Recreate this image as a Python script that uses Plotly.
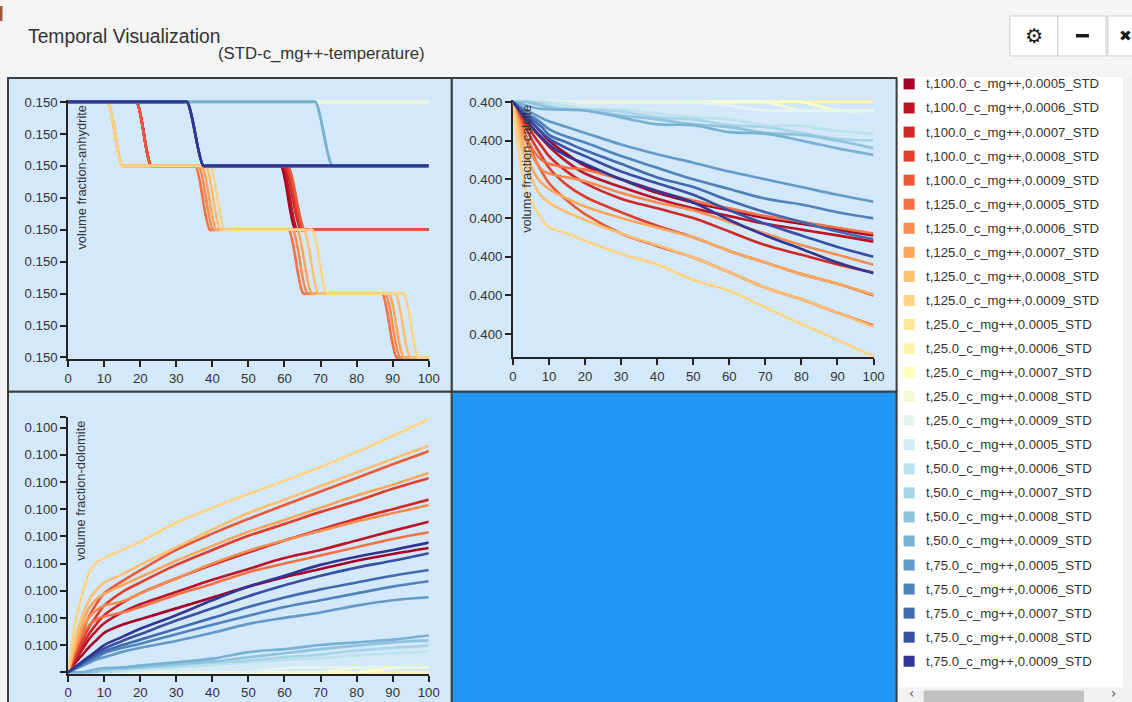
import plotly.graph_objects as go
from plotly.colors import sample_colorscale

W, H = 1132, 702
# the photographed page comes out slightly reduced and shifted; layout positions below are
# given in target-picture pixels and mapped through this small correction
S, A = 0.985, 4.0
FONT = "Liberation Sans, Arial, sans-serif"

# ---------------- data ----------------
temperatures = ["100.0", "125.0", "25.0", "50.0", "75.0"]
concentrations = ["0.0005", "0.0006", "0.0007", "0.0008", "0.0009"]
series_names = [f"t,{t}_c_mg++,{c}_STD" for t in temperatures for c in concentrations]

x_ticks = [0, 10, 20, 30, 40, 50, 60, 70, 80, 90, 100]
time = [0, 2, 4, 6, 8, 10, 15, 20, 30, 40, 50, 60, 70, 80, 90, 100]

# anhydrite: breakpoints per series; value = 0.150 + level * 1e-5
anhydrite_time = [
    [0, 18, 19, 23, 24, 58, 59, 63, 64, 100],
    [0, 18, 19, 23, 24, 58.5, 59.5, 63.5, 64.5, 100],
    [0, 18, 19, 23, 24, 59, 60, 64.5, 65.5, 100],
    [0, 18, 19, 23, 24, 59.5, 60.5, 65, 66, 100],
    [0, 18, 19, 23, 24, 60, 61, 65.5, 66.5, 100],
    [0, 10, 11, 15, 16, 34.3, 35.3, 39.3, 40.3, 60.2, 61.2, 65.2, 66.2, 86.1, 87.1, 91.1, 92.1, 100],
    [0, 10, 11, 15, 16, 35.2, 36.2, 40.2, 41.2, 61.3, 62.3, 66.3, 67.3, 87, 88, 92, 93, 100],
    [0, 10, 11, 15, 16, 36.1, 37.1, 41.1, 42.1, 62.5, 63.5, 67.5, 68.5, 88, 89, 93, 94, 100],
    [0, 10, 11, 15, 16, 37.2, 38.2, 42.2, 43.2, 64.4, 65.4, 69.4, 70.4, 89.8, 90.8, 94.8, 95.8, 100],
    [0, 10, 11, 15, 16, 38.4, 39.4, 43.4, 44.4, 66.7, 67.7, 71.7, 72.7, 92.1, 93.1, 97.1, 98.1, 100],
    [0, 100],
    [0, 100],
    [0, 100],
    [0, 100],
    [0, 100],
    [0, 67.6, 68.6, 73.2, 74.2, 100],
    [0, 67.6, 68.6, 73.2, 74.2, 100],
    [0, 67.6, 68.6, 73.2, 74.2, 100],
    [0, 67.6, 68.6, 73.2, 74.2, 100],
    [0, 67.6, 68.6, 73.2, 74.2, 100],
    [0, 32, 33, 37.5, 38.5, 100],
    [0, 32, 33, 37.5, 38.5, 100],
    [0, 32, 33, 37.5, 38.5, 100],
    [0, 32, 33, 37.5, 38.5, 100],
    [0, 32, 33, 37.5, 38.5, 100],
]
anhydrite_level = [
    [8, 8, 8, 6, 6, 6, 6, 4, 4, 4],
    [8, 8, 8, 6, 6, 6, 6, 4, 4, 4],
    [8, 8, 8, 6, 6, 6, 6, 4, 4, 4],
    [8, 8, 8, 6, 6, 6, 6, 4, 4, 4],
    [8, 8, 8, 6, 6, 6, 6, 4, 4, 4],
    [8, 8, 8, 6, 6, 6, 6, 4, 4, 4, 4, 2, 2, 2, 2, 0, 0, 0],
    [8, 8, 8, 6, 6, 6, 6, 4, 4, 4, 4, 2, 2, 2, 2, 0, 0, 0],
    [8, 8, 8, 6, 6, 6, 6, 4, 4, 4, 4, 2, 2, 2, 2, 0, 0, 0],
    [8, 8, 8, 6, 6, 6, 6, 4, 4, 4, 4, 2, 2, 2, 2, 0, 0, 0],
    [8, 8, 8, 6, 6, 6, 6, 4, 4, 4, 4, 2, 2, 2, 2, 0, 0, 0],
    [8, 8],
    [8, 8],
    [8, 8],
    [8, 8],
    [8, 8],
    [8, 8, 8, 6, 6, 6],
    [8, 8, 8, 6, 6, 6],
    [8, 8, 8, 6, 6, 6],
    [8, 8, 8, 6, 6, 6],
    [8, 8, 8, 6, 6, 6],
    [8, 8, 8, 6, 6, 6],
    [8, 8, 8, 6, 6, 6],
    [8, 8, 8, 6, 6, 6],
    [8, 8, 8, 6, 6, 6],
    [8, 8, 8, 6, 6, 6],
]

# calcite: value = 0.400 - loss * 1e-5 (sampled at `time`)
calcite_loss = [
    [0, 0.2, 0.4, 0.6, 0.8, 1.0, 1.35, 1.65, 2.0, 2.35, 2.6, 2.8, 3.0, 3.15, 3.3, 3.45],
    [0, 0.25, 0.5, 0.75, 0.95, 1.15, 1.55, 1.85, 2.2, 2.5, 2.75, 2.95, 3.15, 3.3, 3.45, 3.61],
    [0, 0.3, 0.6, 0.9, 1.15, 1.4, 1.8, 2.1, 2.5, 2.75, 3.0, 3.35, 3.7, 3.95, 4.2, 4.41],
    [0, 0.35, 0.75, 1.1, 1.4, 1.7, 2.15, 2.45, 2.85, 3.2, 3.5, 3.85, 4.15, 4.45, 4.7, 5.0],
    [0, 0.5, 1.0, 1.45, 1.8, 2.1, 2.55, 2.9, 3.4, 3.72, 4.02, 4.4, 4.8, 5.1, 5.45, 5.78],
    [0, 0.5, 0.95, 1.3, 1.5, 1.6, 1.7, 1.75, 2.0, 2.3, 2.55, 2.75, 2.95, 3.1, 3.25, 3.4],
    [0, 0.6, 1.1, 1.5, 1.75, 1.85, 1.95, 2.05, 2.35, 2.6, 2.8, 3.1, 3.4, 3.7, 3.95, 4.21],
    [0, 0.8, 1.4, 1.85, 2.1, 2.25, 2.5, 2.7, 3.0, 3.25, 3.5, 3.85, 4.15, 4.45, 4.7, 4.98],
    [0, 1.0, 1.7, 2.15, 2.45, 2.6, 2.85, 3.05, 3.4, 3.7, 4.02, 4.4, 4.8, 5.1, 5.45, 5.81],
    [0, 1.5, 2.38, 2.73, 3.03, 3.24, 3.4, 3.59, 3.93, 4.2, 4.6, 4.88, 5.31, 5.74, 6.15, 6.58],
    [0, 0, 0, 0, 0, 0, 0, 0, 0, 0, 0, 0, 0, 0, 0, 0],
    [0, 0, 0, 0, 0, 0, 0, 0, 0, 0, 0, 0, 0, 0, 0, 0],
    [0, 0, 0, 0, 0, 0, 0, 0, 0, 0, 0, 0, 0, 0, 0.22, 0.22],
    [0, 0, 0, 0, 0, 0, 0, 0, 0, 0, 0, 0, 0, 0.22, 0.22, 0.22],
    [0, 0, 0, 0, 0, 0, 0, 0, 0, 0, 0, 0.1, 0.22, 0.22, 0.22, 0.22],
    [0, 0, 0, 0, 0, 0, 0.02, 0.1, 0.18, 0.2, 0.3, 0.4, 0.42, 0.55, 0.6, 0.62],
    [0, 0, 0, 0, 0, 0.02, 0.1, 0.18, 0.2, 0.3, 0.4, 0.45, 0.6, 0.62, 0.75, 0.82],
    [0, 0, 0, 0, 0.05, 0.1, 0.18, 0.2, 0.25, 0.4, 0.45, 0.6, 0.65, 0.8, 0.95, 1.0],
    [0, 0, 0, 0.05, 0.1, 0.15, 0.2, 0.22, 0.35, 0.45, 0.58, 0.65, 0.8, 0.85, 1.0, 1.2],
    [0, 0.05, 0.1, 0.15, 0.18, 0.19, 0.2, 0.22, 0.4, 0.58, 0.6, 0.78, 0.82, 1.0, 1.2, 1.37],
    [0, 0.12, 0.22, 0.32, 0.42, 0.5, 0.65, 0.8, 1.1, 1.35, 1.57, 1.8, 2.0, 2.2, 2.4, 2.58],
    [0, 0.15, 0.3, 0.42, 0.55, 0.7, 0.9, 1.05, 1.4, 1.7, 2.0, 2.25, 2.5, 2.65, 2.85, 3.01],
    [0, 0.18, 0.35, 0.5, 0.65, 0.85, 1.05, 1.25, 1.6, 1.95, 2.2, 2.55, 2.85, 3.1, 3.35, 3.55],
    [0, 0.2, 0.4, 0.6, 0.78, 0.95, 1.2, 1.4, 1.8, 2.1, 2.4, 2.8, 3.15, 3.45, 3.75, 4.0],
    [0, 0.25, 0.5, 0.72, 0.92, 1.1, 1.4, 1.6, 2.0, 2.3, 2.6, 3.05, 3.45, 3.8, 4.15, 4.43],
]

# dolomite: value = 0.100 + gain * 1e-5 (sampled at `time`)
dolomite_gain = [
    [0, 0.35, 0.65, 0.95, 1.2, 1.45, 1.75, 1.95, 2.35, 2.75, 3.15, 3.5, 3.8, 4.1, 4.35, 4.57],
    [0, 0.45, 0.85, 1.25, 1.55, 1.8, 2.2, 2.5, 2.95, 3.4, 3.8, 4.2, 4.5, 4.85, 5.2, 5.54],
    [0, 0.5, 1.0, 1.45, 1.8, 2.1, 2.55, 2.9, 3.45, 3.95, 4.41, 4.85, 5.25, 5.65, 6.0, 6.35],
    [0, 0.6, 1.2, 1.7, 2.1, 2.45, 2.95, 3.3, 3.95, 4.5, 5.02, 5.45, 5.9, 6.3, 6.75, 7.14],
    [0, 0.8, 1.5, 2.1, 2.55, 2.9, 3.35, 3.75, 4.5, 5.1, 5.64, 6.15, 6.65, 7.15, 7.65, 8.13],
    [0, 0.8, 1.4, 1.75, 1.95, 2.05, 2.2, 2.4, 2.85, 3.25, 3.68, 4.0, 4.3, 4.6, 4.9, 5.15],
    [0, 0.9, 1.6, 2.05, 2.3, 2.45, 2.6, 2.9, 3.45, 4.0, 4.47, 4.85, 5.2, 5.55, 5.85, 6.15],
    [0, 1.0, 1.8, 2.4, 2.7, 2.88, 3.2, 3.5, 4.1, 4.65, 5.17, 5.6, 6.05, 6.5, 6.9, 7.33],
    [0, 1.2, 2.1, 2.7, 3.05, 3.3, 3.6, 3.95, 4.6, 5.25, 5.86, 6.35, 6.85, 7.35, 7.85, 8.33],
    [0, 1.8, 2.9, 3.7, 4.05, 4.2, 4.5, 4.8, 5.5, 6.05, 6.56, 7.05, 7.55, 8.1, 8.7, 9.31],
    [0, 0, 0, 0, 0, 0, 0, 0, 0, 0, 0, 0, 0, 0, 0, 0],
    [0, 0, 0, 0, 0, 0, 0, 0, 0, 0, 0, 0, 0, 0, 0, 0],
    [0, 0, 0, 0, 0, 0, 0, 0, 0, 0, 0, 0, 0, 0, 0.15, 0.18],
    [0, 0, 0, 0, 0, 0, 0, 0, 0, 0, 0, 0, 0, 0.18, 0.18, 0.18],
    [0, 0, 0, 0, 0, 0, 0, 0, 0, 0, 0, 0.15, 0.18, 0.18, 0.18, 0.18],
    [0, 0, 0, 0, 0, 0, 0, 0.05, 0.12, 0.18, 0.25, 0.35, 0.42, 0.5, 0.55, 0.62],
    [0, 0, 0, 0, 0, 0, 0.05, 0.12, 0.18, 0.27, 0.37, 0.45, 0.52, 0.62, 0.7, 0.77],
    [0, 0, 0, 0, 0, 0.05, 0.12, 0.18, 0.25, 0.35, 0.43, 0.55, 0.65, 0.8, 0.9, 0.98],
    [0, 0, 0, 0, 0.05, 0.1, 0.15, 0.18, 0.3, 0.4, 0.55, 0.7, 0.85, 0.98, 1.1, 1.17],
    [0, 0, 0, 0.05, 0.12, 0.15, 0.18, 0.25, 0.37, 0.5, 0.74, 0.85, 1.0, 1.1, 1.2, 1.35],
    [0, 0.12, 0.24, 0.36, 0.48, 0.55, 0.75, 0.9, 1.15, 1.45, 1.78, 2.0, 2.2, 2.45, 2.65, 2.76],
    [0, 0.14, 0.28, 0.42, 0.56, 0.7, 0.9, 1.05, 1.4, 1.75, 2.08, 2.4, 2.65, 2.9, 3.15, 3.35],
    [0, 0.16, 0.32, 0.48, 0.64, 0.78, 1.0, 1.2, 1.6, 2.0, 2.4, 2.75, 3.05, 3.3, 3.55, 3.76],
    [0, 0.18, 0.36, 0.54, 0.72, 0.88, 1.15, 1.4, 1.9, 2.35, 2.8, 3.2, 3.55, 3.85, 4.1, 4.38],
    [0, 0.2, 0.4, 0.6, 0.8, 1.0, 1.3, 1.6, 2.1, 2.65, 3.15, 3.55, 3.95, 4.25, 4.5, 4.77],
]

ANHY_BASE, CALC_BASE, DOLO_BASE, UNIT = 0.150, 0.400, 0.100, 1e-5
anhydrite_ticks = [0, 1, 2, 3, 4, 5, 6, 7, 8]
calcite_ticks = [0, 1, 2, 3, 4, 5, 6]
dolomite_ticks = [1, 2, 3, 4, 5, 6, 7, 8, 9]

# ---------------- style ----------------
rdylbu = ['rgb(165,0,38)', 'rgb(215,48,39)', 'rgb(244,109,67)', 'rgb(253,174,97)',
          'rgb(254,224,144)', 'rgb(255,255,191)', 'rgb(224,243,248)', 'rgb(171,217,233)',
          'rgb(116,173,209)', 'rgb(69,117,180)', 'rgb(49,54,149)']
colors = sample_colorscale(rdylbu, [i / (len(series_names) - 1) for i in range(len(series_names))])

PANEL_BG = '#d3e8fa'
BORDER = '#3d3d3d'
AX = '#222222'
TXT = '#333333'
LW = 2.6 / S


def fx(px):
    return ((px - A) / S) / W


def fy(py):
    return 1 - ((py - A) / S) / H


def fs(size):
    return round(size / S, 2)


fig = go.Figure()

for i, name in enumerate(series_names):
    fig.add_trace(go.Scatter(
        x=anhydrite_time[i], y=[ANHY_BASE + v * UNIT for v in anhydrite_level[i]],
        mode='lines', name=name, xaxis='x', yaxis='y', showlegend=False, hoverinfo='skip',
        line=dict(color=colors[i], width=LW, shape='spline', smoothing=1)))
for i, name in enumerate(series_names):
    fig.add_trace(go.Scatter(
        x=time, y=[CALC_BASE - v * UNIT for v in calcite_loss[i]],
        mode='lines', name=name, xaxis='x2', yaxis='y2', showlegend=False, hoverinfo='skip',
        line=dict(color=colors[i], width=LW, shape='spline', smoothing=1)))
for i, name in enumerate(series_names):
    fig.add_trace(go.Scatter(
        x=time, y=[DOLO_BASE + v * UNIT for v in dolomite_gain[i]],
        mode='lines', name=name, xaxis='x3', yaxis='y3', showlegend=False, hoverinfo='skip',
        line=dict(color=colors[i], width=LW, shape='spline', smoothing=1)))

tickfont = dict(family=FONT, size=fs(13), color=TXT)


def xaxis_cfg(x0, x1, anchor):
    return dict(domain=[fx(x0), fx(x1)], anchor=anchor, range=[0, 100],
                tickmode='array', tickvals=x_ticks, ticktext=[str(v) for v in x_ticks],
                ticks='outside', ticklen=6, tickwidth=1.5, tickcolor=AX,
                showline=True, linecolor=AX, linewidth=1.8, showgrid=False, zeroline=False,
                tickfont=tickfont, layer='below traces', fixedrange=True)


def yaxis_cfg(top_px, bot_px, rng, tickvals, ticktext, anchor):
    return dict(domain=[fy(bot_px), fy(top_px)], anchor=anchor, range=rng,
                tickmode='array', tickvals=tickvals, ticktext=ticktext,
                ticks='outside', ticklen=6, tickwidth=1.5, tickcolor=AX,
                showline=True, linecolor=AX, linewidth=1.8, showgrid=False, zeroline=False,
                tickfont=tickfont, layer='below traces', fixedrange=True)


# anhydrite: 8 levels over 101..356.7 px
a_pp = (356.7 - 101) / 8
a_top, a_bot = 101 - 2, 356.7 + 1.5
a_rng = [ANHY_BASE - (1.5 / a_pp) * UNIT, ANHY_BASE + (8 + 2 / a_pp) * UNIT]
a_vals = [ANHY_BASE + k * UNIT for k in anhydrite_ticks]

# calcite: ticks 0..6 at 38.72 px spacing from 101
c_pp = 38.72
c_top, c_bot = 101 - 2, 356.7
c_rng = [CALC_BASE - ((356.7 - 101) / c_pp) * UNIT, CALC_BASE + (2 / c_pp) * UNIT]
c_vals = [CALC_BASE - k * UNIT for k in calcite_ticks]

# dolomite: ticks at 27.2 px spacing, zero at 671.7
d_pp = 27.2
d_top, d_bot = 416, 671.7 + 1.5
d_max = (671.7 - 416) / d_pp
d_rng = [DOLO_BASE - (1.5 / d_pp) * UNIT, DOLO_BASE + d_max * UNIT]
d_vals = [DOLO_BASE] + [DOLO_BASE + k * UNIT for k in dolomite_ticks] + [DOLO_BASE + d_max * UNIT]
d_text = [''] + [f"{DOLO_BASE + k * UNIT:.3f}" for k in dolomite_ticks] + ['']

fig.update_layout(
    width=W, height=H, margin=dict(l=0, r=0, t=0, b=0),
    paper_bgcolor='#f4f4f4', plot_bgcolor='rgba(0,0,0,0)',
    showlegend=False, hovermode=False,
    xaxis=xaxis_cfg(68, 428, 'y'),
    yaxis=yaxis_cfg(a_top, a_bot, a_rng, a_vals, [f"{v:.3f}" for v in a_vals], 'x'),
    xaxis2=xaxis_cfg(512, 872, 'y2'),
    yaxis2=yaxis_cfg(c_top, c_bot, c_rng, c_vals, [f"{v:.3f}" for v in c_vals], 'x2'),
    xaxis3=xaxis_cfg(68, 428, 'y3'),
    yaxis3=yaxis_cfg(d_top, d_bot, d_rng, d_vals, d_text, 'x3'),
)

shapes = []


def rect(x0, y0, x1, y1, fill, line=None, lw=0, layer='below'):
    shapes.append(dict(type='rect', xref='paper', yref='paper', x0=fx(x0), x1=fx(x1),
                       y0=fy(y1), y1=fy(y0), fillcolor=fill, layer=layer,
                       line=dict(color=line if line else 'rgba(0,0,0,0)', width=lw)))


# panels
rect(8, 77, 451, 391, PANEL_BG, BORDER, 2)
rect(451, 77, 895, 391, PANEL_BG, BORDER, 2)
rect(8, 391, 451, 712, PANEL_BG, BORDER, 2)
rect(451, 391, 895, 712, '#2196f3', BORDER, 2)
# legend area
rect(897, 76, 1140, 710, '#ffffff')
rect(1121, 76, 1140, 687, '#f1f1f1')
rect(897, 687, 1140, 710, '#f1f1f1')
rect(922, 690, 1082, 710, '#c1c1c1')
# header buttons
rect(1008, 15, 1056, 55, '#ffffff', '#cccccc', 1)
rect(1056, 15, 1104, 55, '#ffffff', '#cccccc', 1)
rect(1106, 15, 1145, 55, '#ffffff', '#cccccc', 1)
rect(1074, 33, 1087, 36.5, '#1a1a1a', layer='above')
# small mark top-left
rect(0, 5, 2.5, 20, '#9a5a3a')

annotations = []


def text(x, y, s, size, color=TXT, xanchor='left', yanchor='middle', angle=0, family=FONT):
    annotations.append(dict(xref='paper', yref='paper', x=fx(x), y=fy(y), text=s,
                            showarrow=False, xanchor=xanchor, yanchor=yanchor, textangle=angle,
                            font=dict(family=family, size=fs(size), color=color)))


# legend
for i, name in enumerate(series_names):
    cy = 83 + i * 24.07
    rect(902, cy - 5.5, 913, cy + 5.5, colors[i], layer='above')
    text(922, cy, name, 13)

# titles
text(25.5, 35.5, "Temporal Visualization", 19)
text(216, 53, "(STD-c_mg++-temperature)", 16.5)
text(81, 102, "volume fraction-anhydrite", 12.7, xanchor='center', yanchor='top', angle=-90)
text(526, 102, "volume fraction-calcite", 12.7, xanchor='center', yanchor='top', angle=-90)
text(81, 418, "volume fraction-dolomite", 12.7, xanchor='center', yanchor='top', angle=-90)

# buttons icons / scroll arrows
text(1032, 35, "⚙", 20, color='#1a1a1a', xanchor='center', family='DejaVu Sans')
text(1124, 35, "✖", 15, color='#1a1a1a', xanchor='center', family='DejaVu Sans')
text(910, 693, "‹", 13, color='#555555', xanchor='center', family='DejaVu Sans')
text(1112, 693, "›", 13, color='#555555', xanchor='center', family='DejaVu Sans')

fig.update_layout(shapes=shapes, annotations=annotations)

fig.write_html("out.html", post_script="document.body.style.background='#f4f4f4';")
